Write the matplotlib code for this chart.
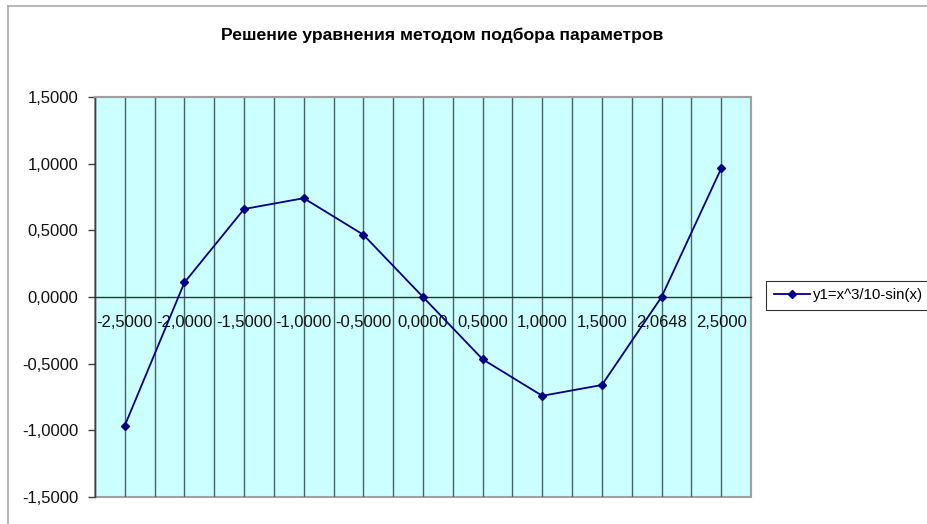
import matplotlib
matplotlib.use("Agg")
import matplotlib.pyplot as plt
import numpy as np
from matplotlib.lines import Line2D
from matplotlib.patches import Rectangle

plt.rcParams['font.family'] = ['Liberation Sans', 'DejaVu Sans']

categories = ["-2,5000", "-2,0000", "-1,5000", "-1,0000", "-0,5000", "0,0000",
              "0,5000", "1,0000", "1,5000", "2,0648", "2,5000"]
y1_values = [-0.964, 0.109, 0.660, 0.741, 0.467, 0.000,
             -0.467, -0.741, -0.660, 0.000, 0.964]
y_ticks = [-1.5, -1.0, -0.5, 0.0, 0.5, 1.0, 1.5]
y_tick_labels = ["-1,5000", "-1,0000", "-0,5000", "0,0000", "0,5000", "1,0000", "1,5000"]
title = "Решение уравнения методом подбора параметров"
series_name = "y1=x^3/10-sin(x)"

W, H = 928, 524
fig = plt.figure(figsize=(W / 100, H / 100), dpi=100)
fig.patch.set_facecolor('white')

# chart area border (top and left visible)
fig.add_artist(Line2D([8 / W, 8 / W], [0, 1 - 6 / H], color='#a8a8a8', lw=1.2))
fig.add_artist(Line2D([8 / W, 1], [1 - 6 / H, 1 - 6 / H], color='#a8a8a8', lw=1.2))

left, right, top, bottom = 95, 751, 97, 497
ax = fig.add_axes([left / W, (H - bottom) / H, (right - left) / W, (bottom - top) / H])
ax.set_facecolor('#CCFFFF')

n = len(categories)
x = np.arange(n)
ax.set_xlim(-0.5, n - 0.5)
ax.set_ylim(-1.5, 1.5)

# vertical gridlines at category centers and boundaries
for gx in np.arange(-0.5, n - 0.5 + 0.01, 0.5):
    ax.axvline(gx, color='#466464', lw=1.0, zorder=1)

ax.plot(x, y1_values, color='#000080', lw=1.3, marker='D', markersize=4.5,
        markerfacecolor='#000080', markeredgecolor='#000080', zorder=4, label=series_name)

# spines
for s in ['top', 'right']:
    ax.spines[s].set_color('#a0a0a0')
    ax.spines[s].set_linewidth(1.5)
ax.spines['left'].set_color('#404040')
ax.spines['left'].set_linewidth(1.0)
ax.spines['bottom'].set_position(('data', 0))
ax.spines['bottom'].set_color('#303030')
ax.spines['bottom'].set_linewidth(1.0)
ax.spines['bottom'].set_zorder(3)
ax.add_patch(Rectangle((0, 0), 1, 1, transform=ax.transAxes, fill=False,
                       edgecolor='#a0a0a0', lw=1.5, zorder=0.5, clip_on=False))

ax.set_yticks(y_ticks)
ax.set_yticklabels(y_tick_labels)
ax.tick_params(axis='y', direction='out', length=5, width=1, color='#404040',
               labelsize=12, pad=7, labelcolor='#111111')
ax.set_xticks(x)
ax.set_xticklabels(categories)
ax.tick_params(axis='x', length=0, labelsize=12, pad=13, labelcolor='#111111')
for lbl in ax.get_xticklabels():
    lbl.set_zorder(5)

fig.text(442 / W, 1 - 35 / H, title, ha='center', va='center',
         fontsize=12.6, fontweight='bold')

leg = fig.legend(loc='center left', bbox_to_anchor=(766 / W, 1 - 295 / H),
                 fontsize=10.8, frameon=True, fancybox=False, handlelength=2.4,
                 borderpad=0.5, handletextpad=0.2, borderaxespad=0)
leg.get_frame().set_edgecolor('black')
leg.get_frame().set_linewidth(0.8)

fig.savefig('out.png', dpi=100)
